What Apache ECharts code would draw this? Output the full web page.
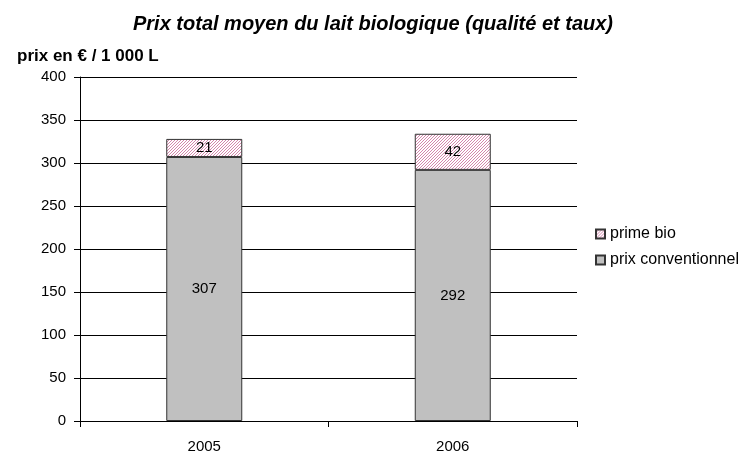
<!DOCTYPE html>
<html>
<head>
<meta charset="utf-8">
<script src="https://cdn.jsdelivr.net/npm/echarts@6/dist/echarts.min.js"></script>
<style>
  html, body { margin: 0; padding: 0; background: #fff; }
  #chart { width: 746px; height: 452px; }
</style>
</head>
<body>
<div id="chart"></div>
<script>
// données
const years = ['2005', '2006'];
const prixConventionnel = [307, 292];
const primeBio = [21, 42];
const yTicks = { min: 0, max: 400, interval: 50 };

// motif hachuré pour la prime bio (diagonales roses pixel par pixel)
const makeHatch = () => {
  const c = document.createElement('canvas');
  c.width = 3;
  c.height = 3;
  const ctx = c.getContext('2d');
  ctx.fillStyle = '#ffffff';
  ctx.fillRect(0, 0, 3, 3);
  ctx.fillStyle = '#d486ac';
  ctx.fillRect(0, 2, 1, 1);
  ctx.fillRect(1, 1, 1, 1);
  ctx.fillRect(2, 0, 1, 1);
  return c;
};

const chart = echarts.init(document.getElementById('chart'), null, { renderer: 'canvas' });
const font = 'Arial, "Liberation Sans", sans-serif';

chart.setOption({
  animation: false,
  textStyle: { fontFamily: font },
  title: [
    {
      text: 'Prix total moyen du lait biologique (qualité et taux)',
      left: 'center',
      top: 9,
      textStyle: { fontSize: 20, fontWeight: 'bold', fontStyle: 'italic', color: '#000', fontFamily: font }
    },
    {
      text: 'prix en € / 1 000 L',
      left: 12,
      top: 43,
      textStyle: { fontSize: 17, fontWeight: 'bold', color: '#000', fontFamily: font }
    }
  ],
  legend: {
    orient: 'vertical',
    left: 590,
    top: 221,
    itemWidth: 9,
    itemHeight: 9,
    itemGap: 10,
    icon: 'rect',
    data: ['prime bio', 'prix conventionnel'],
    textStyle: { fontSize: 16, color: '#000', fontFamily: font }
  },
  grid: { left: 80, right: 169, top: 77, bottom: 31, containLabel: false, outerBoundsMode: 'none' },
  xAxis: {
    type: 'category',
    data: years,
    axisLine: { lineStyle: { color: '#000', width: 1 } },
    axisTick: { show: true, length: 6, lineStyle: { color: '#000' } },
    axisLabel: { color: '#000', fontSize: 15, margin: 18, fontFamily: font }
  },
  yAxis: {
    type: 'value',
    min: yTicks.min,
    max: yTicks.max,
    interval: yTicks.interval,
    axisLine: { show: true, lineStyle: { color: '#000', width: 1 } },
    axisTick: { show: true, length: 6, lineStyle: { color: '#000' } },
    axisLabel: { color: '#000', fontSize: 15, margin: 14, fontFamily: font },
    splitLine: { show: true, lineStyle: { color: '#000', width: 1 } }
  },
  series: [
    {
      name: 'prix conventionnel',
      type: 'bar',
      stack: 'total',
      barWidth: 76,
      data: prixConventionnel,
      itemStyle: { color: '#c0c0c0', borderColor: '#333', borderWidth: 1 },
      label: { show: true, position: 'inside', color: '#000', fontSize: 15, fontFamily: font }
    },
    {
      name: 'prime bio',
      type: 'bar',
      stack: 'total',
      barWidth: 76,
      data: primeBio,
      itemStyle: { color: { image: makeHatch(), repeat: 'repeat' }, borderColor: '#333', borderWidth: 1 },
      label: { show: true, position: 'inside', color: '#000', fontSize: 15, fontFamily: font }
    }
  ]
});
</script>
</body>
</html>
